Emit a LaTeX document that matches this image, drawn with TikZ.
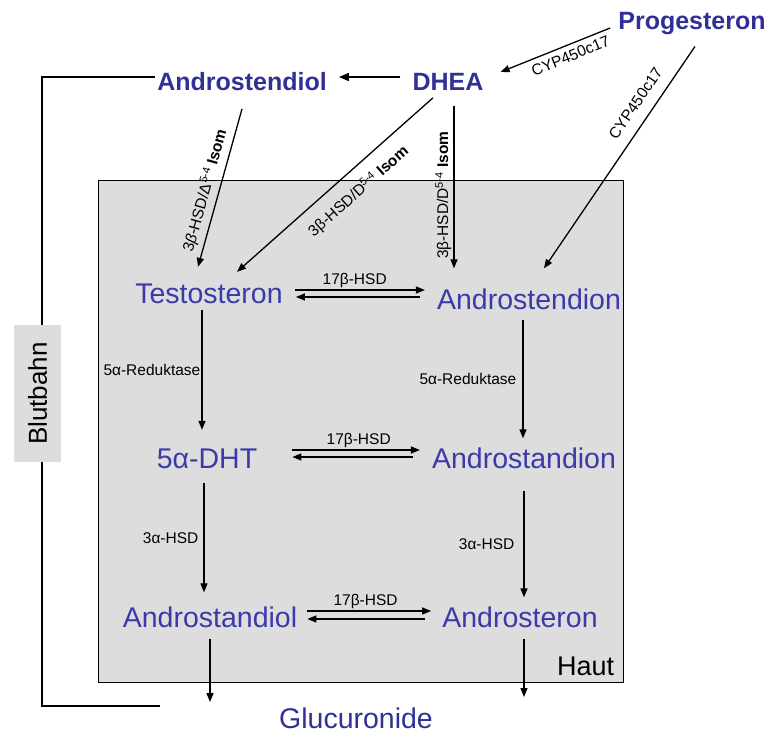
\documentclass[tikz,border=0pt]{standalone}
\usepackage{fontspec}
\setmainfont{Liberation Sans}
\usepackage{tikz}
\usetikzlibrary{arrows.meta, calc}
\definecolor{blauhell}{RGB}{58,58,170}
\definecolor{blaudunkel}{RGB}{48,48,150}
\definecolor{hautgrau}{RGB}{221,221,221}
\tikzstyle{quelle} = [text=blaudunkel, font=\fontsize{25}{28}\selectfont\bfseries, inner sep=0pt]
\tikzstyle{hormon} = [text=blauhell, font=\fontsize{28.5}{31}\selectfont, inner sep=0pt]
\tikzstyle{enzym} = [text=black, font=\fontsize{15.5}{17}\selectfont, inner sep=2pt]
\tikzstyle{arrow} = [line width=1.3pt, -{Triangle[length=9pt,width=7pt]}]
\tikzstyle{bigarrow} = [line width=1.6pt, -{Triangle[length=10pt,width=8pt]}]
\tikzstyle{linie} = [line width=1.4pt]

\begin{document}
\begin{tikzpicture}[x=1pt, y=-1pt]
\useasboundingbox (0,0) rectangle (771,733);

% Haut
\node (hautbox) [draw=black, line width=1.3pt, fill=hautgrau, minimum width=525pt, minimum height=502pt, inner sep=0pt, anchor=north west] at (98,180) {};
\node (haut) [anchor=south east, inner sep=0pt, font=\fontsize{27}{29}\selectfont] at ([shift={(-10pt,7pt)}]hautbox.south east) {Haut};

% Blutbahn
\node (blutbahn) [rotate=90, fill=hautgrau, minimum width=137pt, minimum height=47pt, inner sep=0pt, font=\fontsize{26}{28}\selectfont] at (37.5,393.5) {Blutbahn};

% Vorstufen
\node (androstendiol) [quelle] at (242,82) {Androstendiol};
\node (dhea) [quelle] at (448,82) {DHEA};
\node (progesteron) [quelle] at (692,24) {Progesteron};

% Hormone in der Haut
\node (testosteron) [hormon] at (209,294) {Testosteron};
\node (androstendion) [hormon] at (529,299) {Androstendion};
\node (dht) [hormon] at (207,459) {5α-DHT};
\node (androstandion) [hormon] at (524,458) {Androstandion};
\node (androstandiol) [hormon] at (210,617) {Androstandiol};
\node (androsteron) [hormon] at (520,617) {Androsteron};
\node (glucuronide) [hormon, text=blaudunkel] at (356,718) {Glucuronide};

\coordinate (glucL) at (210,702);
\coordinate (glucR) at (524,697);
\coordinate (blutunten) at (160,706);

% oben
\draw [bigarrow] ([shift={(-12pt,5pt)}]dhea.west) -- ([shift={(12pt,5pt)}]androstendiol.east);
\draw [arrow] ([shift={(-8pt,-4pt)}]progesteron.west) -- node[enzym, sloped, below=3pt, pos=0.4] {CYP450c17} ([shift={(17pt,10pt)}]dhea.east);
\draw [arrow] ([shift={(3pt,-11pt)}]progesteron.south) -- node[enzym, sloped, above=9pt, pos=0.3] {CYP450c17} ([shift={(15pt,20pt)}]androstendion.north);
\draw [arrow] ([shift={(0pt,-17.5pt)}]androstendiol.south) -- node[enzym, sloped, above=3pt, pos=0.54] {3\textit{β}-HSD/Δ\textsuperscript{5-4} \textbf{Isom}} ([shift={(-11pt,17pt)}]testosteron.north);
\draw [arrow] ([shift={(-15pt,-7pt)}]dhea.south) -- node[enzym, sloped, below=10pt, pos=0.45] {3β-HSD/D\textsuperscript{5-4} \textbf{Isom}} ([shift={(28pt,12pt)}]testosteron.north);
\draw [arrow] ([shift={(6pt,-15pt)}]dhea.south) -- node[enzym, rotate=90, anchor=south, pos=0.55] {3β-HSD/D\textsuperscript{5-4} \textbf{Isom}} ([shift={(-75pt,20pt)}]androstendion.north);

% 17beta-HSD
\draw [arrow] ([shift={(12pt,4pt)}]testosteron.east) -- node[enzym, above, pos=0.46] {17β-HSD} ([shift={(-12pt,9pt)}]androstendion.west);
\draw [arrow] ([shift={(-17pt,2pt)}]androstendion.west) -- ([shift={(13pt,-3pt)}]testosteron.east);
\draw [arrow] ([shift={(35pt,9pt)}]dht.east) -- node[enzym, above, pos=0.52] {17β-HSD} ([shift={(-12pt,8pt)}]androstandion.west);
\draw [arrow] ([shift={(-19pt,1pt)}]androstandion.west) -- ([shift={(35pt,2pt)}]dht.east);
\draw [arrow] ([shift={(10pt,6pt)}]androstandiol.east) -- node[enzym, above, pos=0.47] {17β-HSD} ([shift={(-11pt,6pt)}]androsteron.west);
\draw [arrow] ([shift={(-17pt,-2pt)}]androsteron.west) -- ([shift={(10pt,-2pt)}]androstandiol.east);

% senkrecht
\draw [arrow] ([shift={(-7pt,-6pt)}]testosteron.south) -- node[enzym, left, inner sep=1pt] {5α-Reduktase} ([shift={(-5pt,19pt)}]dht.north);
\draw [arrow] ([shift={(-3pt,-14pt)}]dht.south) -- node[enzym, left, inner sep=5pt] {3α-HSD} ([shift={(-6pt,14pt)}]androstandiol.north);
\draw [arrow] ([shift={(-6pt,-10pt)}]androstendion.south) -- node[enzym, left, inner sep=6pt] {5α-Reduktase} ([shift={(-1pt,9pt)}]androstandion.north);
\draw [arrow] ([shift={(0pt,-22pt)}]androstandion.south) -- node[enzym, left, inner sep=9pt] {3α-HSD} ([shift={(4pt,9pt)}]androsteron.north);
\draw [arrow] ([yshift=-11pt]androstandiol.south) -- (glucL);
\draw [arrow] ([shift={(4pt,-11pt)}]androsteron.south) -- (glucR);

% Blutbahn
\draw [linie] ([shift={(-2pt,5pt)}]androstendiol.west) -| ([xshift=4.5pt]blutbahn.east);
\draw [linie] ([xshift=4.5pt]blutbahn.west) |- (blutunten);

\end{tikzpicture}
\end{document}
